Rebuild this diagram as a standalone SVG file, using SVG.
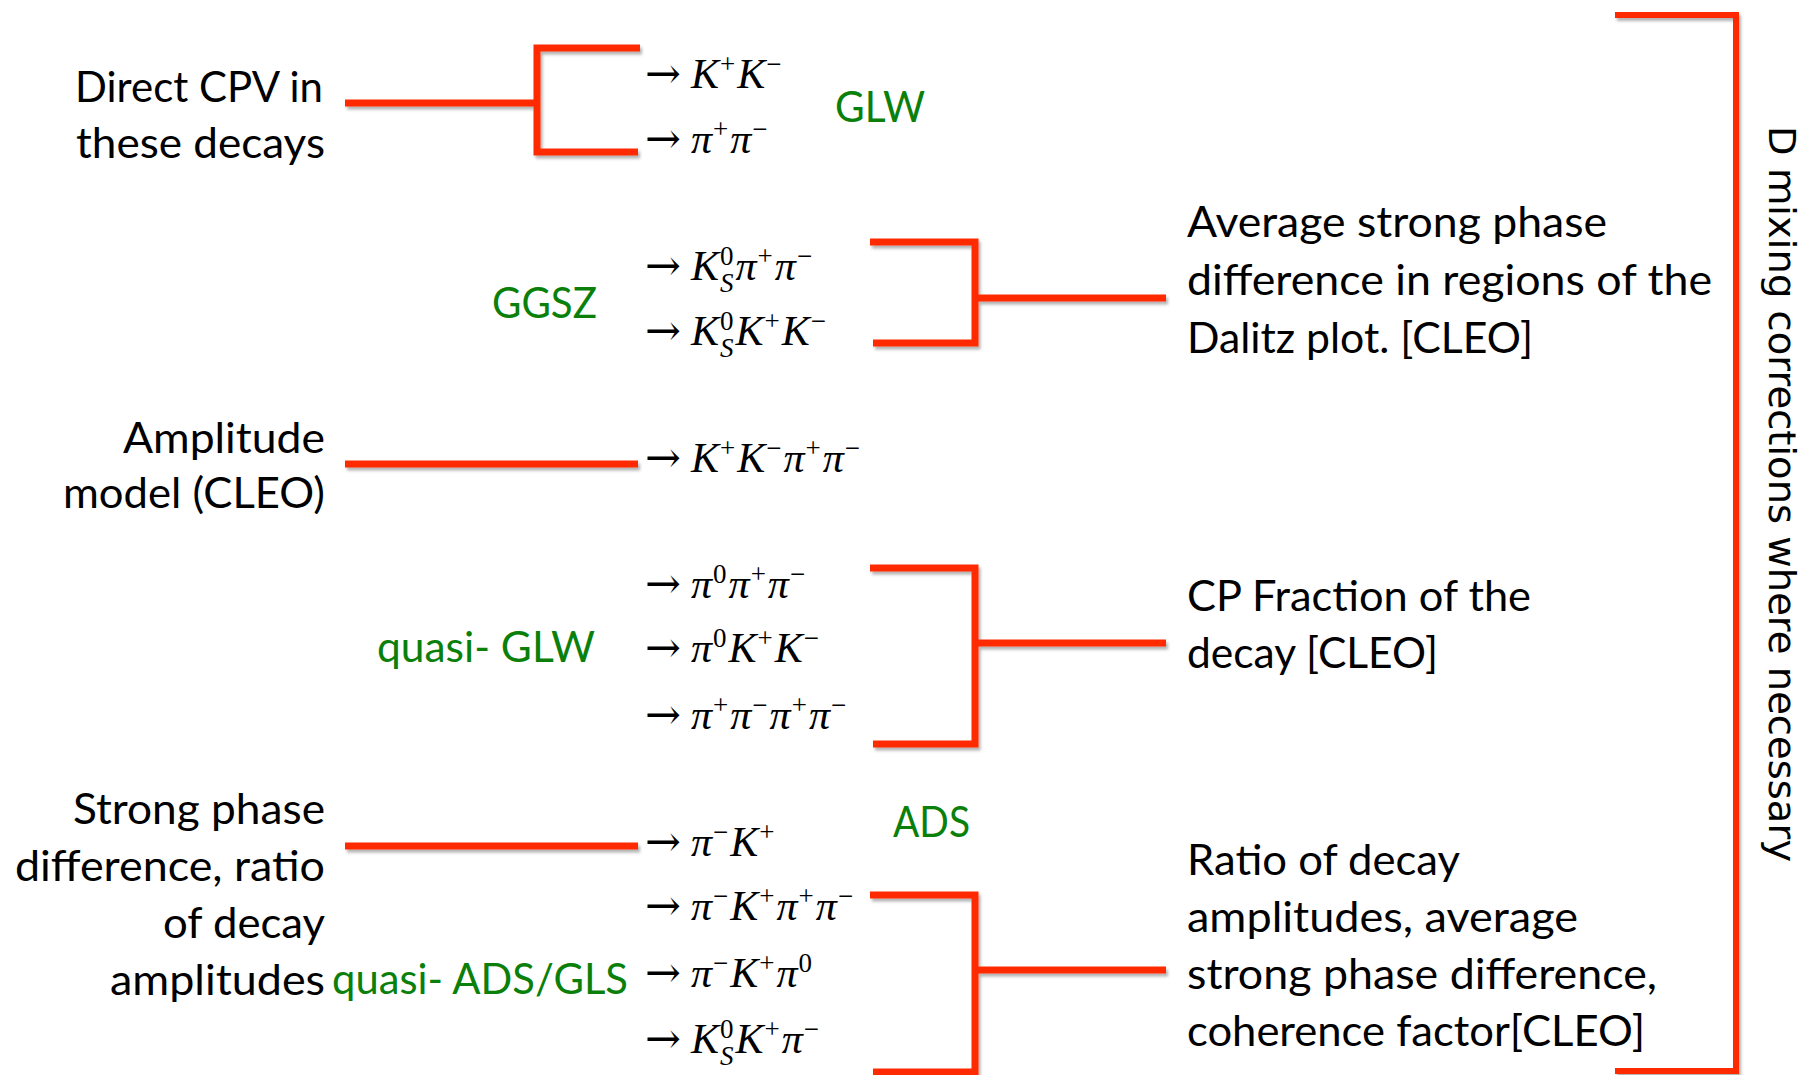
<svg xmlns="http://www.w3.org/2000/svg" width="1802" height="1075" viewBox="0 0 1802 1075">
<defs>
<style>
.t{font-family:Lato,"Open Sans","Liberation Sans",sans-serif;font-size:42px;fill:#000}
.g{font-family:Lato,"Open Sans","Liberation Sans",sans-serif;font-size:42px;fill:#0A800A}
.m{font-family:"Liberation Serif","Times New Roman",serif;font-size:42px;fill:#000}
.a{font-family:"DejaVu Serif","DejaVu Sans",serif;font-size:43px}
.it{font-style:italic}
.s{font-size:27px}
.v{font-family:"DejaVu Sans",Verdana,sans-serif;font-size:38px;fill:#000}
.c{fill:none;stroke:#FF2A00;stroke-width:7;stroke-linejoin:miter;stroke-linecap:butt}
</style>
<filter id="sh" x="-5%" y="-20%" width="110%" height="140%">
<feDropShadow dx="2" dy="3" stdDeviation="1.5" flood-color="#000" flood-opacity="0.3"/>
</filter>
</defs>
<rect width="1802" height="1075" fill="#fff"/>

<g id="connectors" filter="url(#sh)">
<path class="c" d="M345,103 H537"/>
<path class="c" d="M640,48 H537 V152 H638"/>
<path class="c" d="M870,242 H975 V343 H873"/>
<path class="c" d="M975,298 H1166"/>
<path class="c" d="M345,464 H638"/>
<path class="c" d="M870,568 H975 V744 H873"/>
<path class="c" d="M975,643 H1166"/>
<path class="c" d="M345,846 H638"/>
<path class="c" d="M870,895 H975 V1072 H873"/>
<path class="c" d="M975,970 H1166"/>
<path class="c" d="M1615,15 H1736 V1071 H1615" style="stroke-width:6"/>
</g>

<g id="node-direct-cpv">
<text class="t" x="75" y="102" textLength="248" lengthAdjust="spacingAndGlyphs">Direct CPV in</text>
<text class="t" x="76" y="158" textLength="249" lengthAdjust="spacingAndGlyphs">these decays</text>
</g>
<g id="node-amplitude-model">
<text class="t" x="123" y="453" textLength="202" lengthAdjust="spacingAndGlyphs">Amplitude</text>
<text class="t" x="63" y="508" textLength="262" lengthAdjust="spacingAndGlyphs">model (CLEO)</text>
</g>
<g id="node-strong-phase">
<text class="t" x="73" y="824" textLength="252" lengthAdjust="spacingAndGlyphs">Strong phase</text>
<text class="t" x="15" y="881" textLength="310" lengthAdjust="spacingAndGlyphs">difference, ratio</text>
<text class="t" x="163" y="938" textLength="162" lengthAdjust="spacingAndGlyphs">of decay</text>
<text class="t" x="110" y="995" textLength="215" lengthAdjust="spacingAndGlyphs">amplitudes</text>
</g>

<g id="node-glw"><text class="g" x="835" y="122" textLength="90" lengthAdjust="spacingAndGlyphs">GLW</text></g>
<g id="node-ggsz"><text class="g" x="492" y="318" textLength="105" lengthAdjust="spacingAndGlyphs">GGSZ</text></g>
<g id="node-quasi-glw"><text class="g" x="377" y="662" textLength="218" lengthAdjust="spacingAndGlyphs">quasi- GLW</text></g>
<g id="node-ads"><text class="g" x="893" y="837" textLength="77" lengthAdjust="spacingAndGlyphs">ADS</text></g>
<g id="node-quasi-ads"><text class="g" x="332" y="994" textLength="296" lengthAdjust="spacingAndGlyphs">quasi- ADS/GLS</text></g>

<g id="node-kk"><text class="m" x="645" y="88"><tspan class="a">→</tspan><tspan class="it" dx="10">K</tspan><tspan class="s" dx="1" dy="-15">+</tspan><tspan class="it" dx="2" dy="15">K</tspan><tspan class="s" dx="1" dy="-15">−</tspan></text></g>
<g id="node-pipi"><text class="m" x="645" y="153"><tspan class="a">→</tspan><tspan class="it" dx="10">π</tspan><tspan class="s" dx="1" dy="-15">+</tspan><tspan class="it" dx="2" dy="15">π</tspan><tspan class="s" dx="1" dy="-15">−</tspan></text></g>
<g id="node-kspipi"><text class="m" x="645" y="280"><tspan class="a">→</tspan><tspan class="it" dx="10">K</tspan><tspan class="s" dx="1" dy="-15">0</tspan><tspan class="s it" dx="-13.5" dy="27">S</tspan><tspan class="it" dx="2" dy="-12">π</tspan><tspan class="s" dx="1" dy="-15">+</tspan><tspan class="it" dx="2" dy="15">π</tspan><tspan class="s" dx="1" dy="-15">−</tspan></text></g>
<g id="node-kskk"><text class="m" x="645" y="345"><tspan class="a">→</tspan><tspan class="it" dx="10">K</tspan><tspan class="s" dx="1" dy="-15">0</tspan><tspan class="s it" dx="-13.5" dy="27">S</tspan><tspan class="it" dx="2" dy="-12">K</tspan><tspan class="s" dx="1" dy="-15">+</tspan><tspan class="it" dx="2" dy="15">K</tspan><tspan class="s" dx="1" dy="-15">−</tspan></text></g>
<g id="node-kkpipi"><text class="m" x="645" y="472"><tspan class="a">→</tspan><tspan class="it" dx="10">K</tspan><tspan class="s" dx="1" dy="-15">+</tspan><tspan class="it" dx="2" dy="15">K</tspan><tspan class="s" dx="1" dy="-15">−</tspan><tspan class="it" dx="2" dy="15">π</tspan><tspan class="s" dx="1" dy="-15">+</tspan><tspan class="it" dx="2" dy="15">π</tspan><tspan class="s" dx="1" dy="-15">−</tspan></text></g>
<g id="node-pi0pipi"><text class="m" x="645" y="598"><tspan class="a">→</tspan><tspan class="it" dx="10">π</tspan><tspan class="s" dx="1" dy="-15">0</tspan><tspan class="it" dx="2" dy="15">π</tspan><tspan class="s" dx="1" dy="-15">+</tspan><tspan class="it" dx="2" dy="15">π</tspan><tspan class="s" dx="1" dy="-15">−</tspan></text></g>
<g id="node-pi0kk"><text class="m" x="645" y="662"><tspan class="a">→</tspan><tspan class="it" dx="10">π</tspan><tspan class="s" dx="1" dy="-15">0</tspan><tspan class="it" dx="2" dy="15">K</tspan><tspan class="s" dx="1" dy="-15">+</tspan><tspan class="it" dx="2" dy="15">K</tspan><tspan class="s" dx="1" dy="-15">−</tspan></text></g>
<g id="node-4pi"><text class="m" x="645" y="729"><tspan class="a">→</tspan><tspan class="it" dx="10">π</tspan><tspan class="s" dx="1" dy="-15">+</tspan><tspan class="it" dx="2" dy="15">π</tspan><tspan class="s" dx="1" dy="-15">−</tspan><tspan class="it" dx="2" dy="15">π</tspan><tspan class="s" dx="1" dy="-15">+</tspan><tspan class="it" dx="2" dy="15">π</tspan><tspan class="s" dx="1" dy="-15">−</tspan></text></g>
<g id="node-pik"><text class="m" x="645" y="856"><tspan class="a">→</tspan><tspan class="it" dx="10">π</tspan><tspan class="s" dx="1" dy="-15">−</tspan><tspan class="it" dx="2" dy="15">K</tspan><tspan class="s" dx="1" dy="-15">+</tspan></text></g>
<g id="node-pikpipi"><text class="m" x="645" y="920"><tspan class="a">→</tspan><tspan class="it" dx="10">π</tspan><tspan class="s" dx="1" dy="-15">−</tspan><tspan class="it" dx="2" dy="15">K</tspan><tspan class="s" dx="1" dy="-15">+</tspan><tspan class="it" dx="2" dy="15">π</tspan><tspan class="s" dx="1" dy="-15">+</tspan><tspan class="it" dx="2" dy="15">π</tspan><tspan class="s" dx="1" dy="-15">−</tspan></text></g>
<g id="node-pikpi0"><text class="m" x="645" y="987"><tspan class="a">→</tspan><tspan class="it" dx="10">π</tspan><tspan class="s" dx="1" dy="-15">−</tspan><tspan class="it" dx="2" dy="15">K</tspan><tspan class="s" dx="1" dy="-15">+</tspan><tspan class="it" dx="2" dy="15">π</tspan><tspan class="s" dx="1" dy="-15">0</tspan></text></g>
<g id="node-kskpi"><text class="m" x="645" y="1053"><tspan class="a">→</tspan><tspan class="it" dx="10">K</tspan><tspan class="s" dx="1" dy="-15">0</tspan><tspan class="s it" dx="-13.5" dy="27">S</tspan><tspan class="it" dx="2" dy="-12">K</tspan><tspan class="s" dx="1" dy="-15">+</tspan><tspan class="it" dx="2" dy="15">π</tspan><tspan class="s" dx="1" dy="-15">−</tspan></text></g>

<g id="node-avg-strong-phase">
<text class="t" x="1187" y="237" textLength="420" lengthAdjust="spacingAndGlyphs">Average strong phase</text>
<text class="t" x="1187" y="295" textLength="525" lengthAdjust="spacingAndGlyphs">difference in regions of the</text>
<text class="t" x="1187" y="353" textLength="346" lengthAdjust="spacingAndGlyphs">Dalitz plot. [CLEO]</text>
</g>
<g id="node-cp-fraction">
<text class="t" x="1187" y="611" textLength="344" lengthAdjust="spacingAndGlyphs">CP Fraction of the</text>
<text class="t" x="1187" y="668" textLength="251" lengthAdjust="spacingAndGlyphs">decay [CLEO]</text>
</g>
<g id="node-ratio">
<text class="t" x="1187" y="875" textLength="273" lengthAdjust="spacingAndGlyphs">Ratio of decay</text>
<text class="t" x="1187" y="932" textLength="391" lengthAdjust="spacingAndGlyphs">amplitudes, average</text>
<text class="t" x="1187" y="989" textLength="470" lengthAdjust="spacingAndGlyphs">strong phase difference,</text>
<text class="t" x="1187" y="1046" textLength="458" lengthAdjust="spacingAndGlyphs">coherence factor[CLEO]</text>
</g>
<g id="node-d-mixing">
<text class="v" transform="translate(1769,126) rotate(90)" x="0" y="0" textLength="736" lengthAdjust="spacingAndGlyphs">D mixing corrections where necessary</text>
</g>
</svg>
